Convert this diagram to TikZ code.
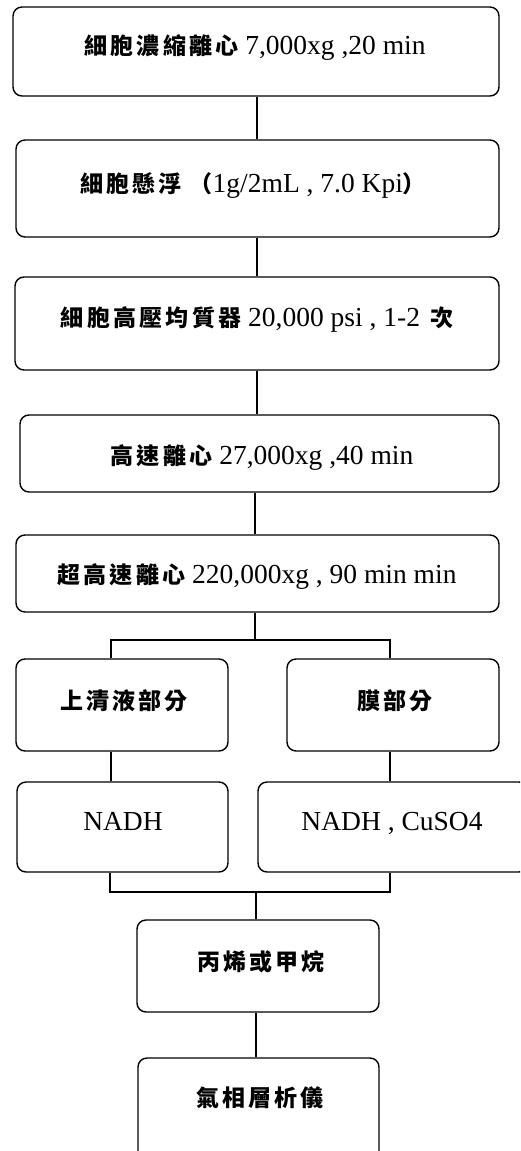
\documentclass[tikz,border=0pt]{standalone}
\usepackage{fontspec}
\setmainfont{Liberation Serif}
\newfontfamily\cjkfont[LetterSpace=14]{Noto Sans CJK TC}
\newcommand{\zh}[1]{{\cjkfont\fontsize{23}{27}\selectfont\bfseries #1}}
\begin{document}
\begin{tikzpicture}[x=1pt,y=-1pt,
  box/.style={draw, line width=1.4pt, rounded corners=9pt, inner sep=0pt},
  txt/.style={inner sep=0pt, anchor=base, font=\fontsize{27.5}{32}\selectfont},
  link/.style={line width=1.4pt}]
\useasboundingbox (0,0) rectangle (520,1151);
\clip (0,0) rectangle (520,1151);
% boxes
\node[box, minimum width=486, minimum height=89] (b1) at (256,51.5) {};
\node[box, minimum width=483, minimum height=97] (b2) at (257.5,188.5) {};
\node[box, minimum width=484, minimum height=93] (b3) at (257,323.5) {};
\node[box, minimum width=479, minimum height=77] (b4) at (259.5,453.5) {};
\node[box, minimum width=483, minimum height=77] (b5) at (257.5,573.5) {};
\node[box, minimum width=212, minimum height=92] (b6) at (122,705) {};
\node[box, minimum width=212, minimum height=92] (b7) at (393,705) {};
\node[box, minimum width=211, minimum height=90] (b8) at (122.5,827) {};
\node[box, minimum width=270, minimum height=90] (b9) at (393,827) {};
\node[box, minimum width=242, minimum height=92] (b10) at (258,966) {};
\node[box, minimum width=241, minimum height=110] (b11) at (258.5,1113) {};
% texts
\node[txt] (t1) at (255,54) {\zh{細胞濃縮離心} 7,000xg ,20 min};
\node[txt] (t2) at (253,192) {\zh{細胞懸浮}\hspace{8pt}\zh{（}1g/2mL , 7.0 Kpi\zh{）}};
\node[txt] (t3) at (257,326) {\zh{細胞高壓均質器} 20,000 psi , 1-2\hspace{10pt}\zh{次}};
\node[txt] (t4) at (262,464) {\zh{高速離心} 27,000xg ,40 min};
\node[txt] (t5) at (257,583) {\zh{超高速離心} 220,000xg , 90 min min};
\node[txt] (t6) at (124,709) {\zh{上清液部分}};
\node[txt] (t7) at (395,709) {\zh{膜部分}};
\node[txt] (t8) at (123,830) {NADH};
\node[txt] (t9) at (392,830) {NADH , CuSO4};
\node[txt] (t10) at (261,970) {\zh{丙烯或甲烷}};
\node[txt] (t11) at (260,1106) {\zh{氣相層析儀}};
% junction coordinates
\coordinate (c1) at (257,0);
\coordinate (c2) at (255,0);
\coordinate (sj) at (255,640);
\coordinate (sl) at (111,640);
\coordinate (sr) at (390,640);
\coordinate (mj) at (256,892);
\coordinate (ml) at (110,892);
\coordinate (mr) at (390,892);
% connectors
\draw[link] (b1.south -| c1) -- (b2.north -| c1);
\draw[link] (b2.south -| c1) -- (b3.north -| c1);
\draw[link] (b3.south -| c1) -- (b4.north -| c1);
\draw[link] (b4.south -| c2) -- (b5.north -| c2);
\draw[link] (b5.south -| sj) -- (sj);
\draw[link] (b6.north -| sl) -- (sl) -- (sr) -- (b7.north -| sr);
\draw[link] (b6.south -| sl) -- (b8.north -| sl);
\draw[link] (b7.south -| sr) -- (b9.north -| sr);
\draw[link] (b8.south -| ml) -- (ml) -- (mr) -- (b9.south -| mr);
\draw[link] (mj) -- (b10.north -| mj);
\draw[link] (b10.south -| mj) -- (b11.north -| mj);
\end{tikzpicture}
\end{document}
